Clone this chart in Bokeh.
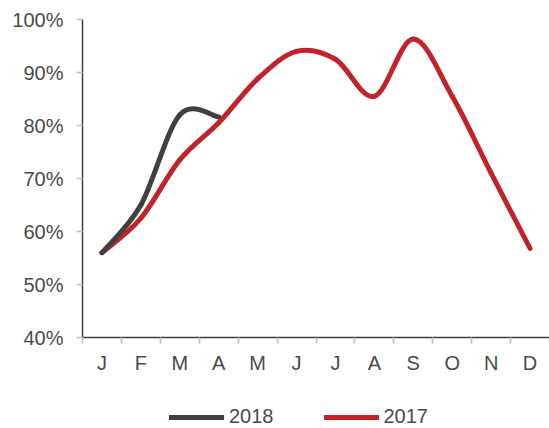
import numpy as np
from bokeh.plotting import figure
from bokeh.layouts import column
from bokeh.models import (Range1d, FixedTicker, PrintfTickFormatter, Legend, LegendItem,
                          ColumnDataSource)
from bokeh.embed import file_html
from bokeh.resources import INLINE

months = ["J", "F", "M", "A", "M", "J", "J", "A", "S", "O", "N", "D"]
v2017 = [56.0, 62.5, 73.5, 80.5, 88.8, 94.0, 92.5, 85.5, 96.3, 85.5, 71.0, 56.8]
v2018 = [56.0, 65.0, 82.0, 81.6]
y_ticks = [40, 50, 60, 70, 80, 90, 100]
series_names = ["2018", "2017"]

RED = "#C1232B"
DARK = "#404040"
TEXT = "#4a4a4a"
FONT = "Liberation Sans"


def bezier_source(vals):
    n = len(vals)
    xs = np.arange(n) + 0.5
    P = np.column_stack([xs, np.asarray(vals, dtype=float)])
    d = dict(x0=[], y0=[], x1=[], y1=[], cx0=[], cy0=[], cx1=[], cy1=[])
    for i in range(n - 1):
        p0 = P[i - 1] if i > 0 else P[i]
        p1 = P[i]
        p2 = P[i + 1]
        p3 = P[i + 2] if i + 2 < n else P[i + 1]
        c0 = p1 + (p2 - p0) / 6.0
        c1 = p2 - (p3 - p1) / 6.0
        d["x0"].append(p1[0]); d["y0"].append(p1[1])
        d["x1"].append(p2[0]); d["y1"].append(p2[1])
        d["cx0"].append(c0[0]); d["cy0"].append(c0[1])
        d["cx1"].append(c1[0]); d["cy1"].append(c1[1])
    return ColumnDataSource(d)


p = figure(width=549, height=382, output_backend="svg", toolbar_location=None,
           x_range=Range1d(0, len(months)), y_range=Range1d(40, 100),
           min_border_left=82, min_border_right=0, min_border_top=19, min_border_bottom=45)
p.frame_align = False
p.outline_line_color = None
p.xgrid.visible = False
p.ygrid.visible = False
p.background_fill_color = "white"
p.border_fill_color = "white"

# x axis
centers = [i + 0.5 for i in range(len(months))]
p.xaxis.ticker = FixedTicker(ticks=centers, minor_ticks=list(range(len(months) + 1)))
p.xaxis.major_label_overrides = {c: m for c, m in zip(centers, months)}
p.xaxis.major_tick_line_color = None
p.xaxis.major_tick_out = 6
p.xaxis.minor_tick_out = 6
p.xaxis.minor_tick_in = 0
p.xaxis.minor_tick_line_color = "#c0c0c0"
p.xaxis.minor_tick_line_width = 1.5
p.xaxis.axis_line_color = DARK
p.xaxis.axis_line_width = 1.5
p.xaxis.major_label_standoff = 8
p.xaxis.major_label_text_font = FONT
p.xaxis.major_label_text_font_size = "20px"
p.xaxis.major_label_text_color = TEXT

# y axis
p.yaxis.ticker = FixedTicker(ticks=y_ticks, minor_ticks=[])
p.yaxis.formatter = PrintfTickFormatter(format="%d%%")
p.yaxis.major_tick_out = 6
p.yaxis.major_tick_in = 0
p.yaxis.major_tick_line_color = "#c0c0c0"
p.yaxis.major_tick_line_width = 1.5
p.yaxis.minor_tick_line_color = None
p.yaxis.axis_line_color = DARK
p.yaxis.axis_line_width = 1.5
p.yaxis.major_label_standoff = 13
p.yaxis.major_label_text_font = FONT
p.yaxis.major_label_text_font_size = "20px"
p.yaxis.major_label_text_color = TEXT

# curves
r17 = p.bezier(x0="x0", y0="y0", x1="x1", y1="y1", cx0="cx0", cy0="cy0", cx1="cx1", cy1="cy1",
               source=bezier_source(v2017), line_color=RED, line_width=5, line_cap="round")
r18 = p.bezier(x0="x0", y0="y0", x1="x1", y1="y1", cx0="cx0", cy0="cy0", cx1="cx1", cy1="cy1",
               source=bezier_source(v2018), line_color=DARK, line_width=5, line_cap="round")

# legend strip below the chart
lf = figure(width=549, height=46, output_backend="svg", toolbar_location=None,
            x_axis_type=None, y_axis_type=None, x_range=Range1d(0, 1), y_range=Range1d(0, 1),
            min_border=0)
lf.frame_align = False
lf.outline_line_color = None
lf.xgrid.visible = False
lf.ygrid.visible = False
l18 = lf.line(x=[0, 1], y=[-5, -5], line_color=DARK, line_width=5, line_cap="round")
l17 = lf.line(x=[0, 1], y=[-5, -5], line_color=RED, line_width=5, line_cap="round")
legend = Legend(items=[LegendItem(label=series_names[0], renderers=[l18]),
                       LegendItem(label=series_names[1], renderers=[l17])],
                location=(169, 0), orientation="horizontal",
                glyph_width=55, glyph_height=20, label_height=20, label_standoff=5,
                spacing=50, padding=0, margin=0,
                border_line_alpha=0, background_fill_alpha=0,
                label_text_font=FONT, label_text_font_size="20px",
                label_text_color=TEXT)
lf.add_layout(legend)

layout = column(p, lf, spacing=0)
open("out.html", "w").write(file_html(layout, INLINE))
